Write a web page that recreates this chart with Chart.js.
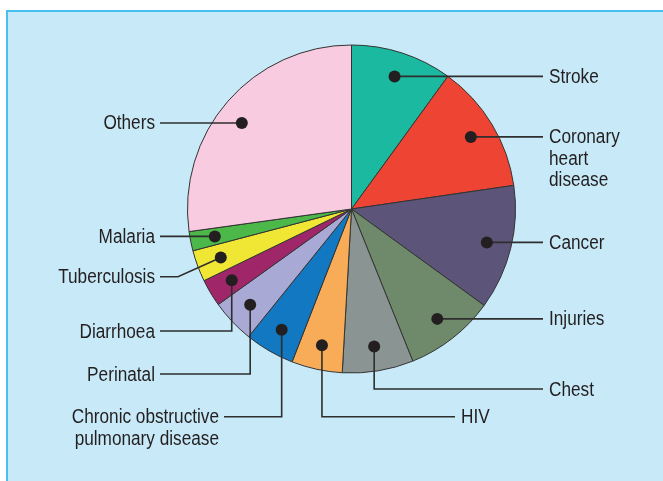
<!DOCTYPE html>
<html><head><meta charset="utf-8">
<script src="https://cdn.jsdelivr.net/npm/chart.js@4/dist/chart.umd.min.js"></script>
<style>
html,body{margin:0;padding:0;background:#fff;width:663px;height:481px;overflow:hidden;}
#panel{position:absolute;left:6px;top:10px;width:700px;height:520px;background:#c7e9f8;border-top:2px solid #48c0ef;border-left:2px solid #48c0ef;}
#wrap{position:absolute;left:0;top:0;width:663px;height:481px;}
</style></head><body>
<div id="panel"></div>
<div id="wrap"><canvas id="c" width="663" height="481"></canvas></div>
<script>
const categories = ['Stroke', 'Coronary heart disease', 'Cancer', 'Injuries', 'Chest', 'HIV',
  'Chronic obstructive pulmonary disease', 'Perinatal', 'Diarrhoea', 'Tuberculosis', 'Malaria', 'Others'];
const labelLines = [['Stroke'], ['Coronary', 'heart', 'disease'], ['Cancer'], ['Injuries'], ['Chest'], ['HIV'],
  ['Chronic obstructive', 'pulmonary disease'], ['Perinatal'], ['Diarrhoea'], ['Tuberculosis'], ['Malaria'], ['Others']];
const shares = [10.0, 12.7, 12.3, 8.9, 7.0, 5.0, 4.9, 4.3, 2.7, 3.1, 1.9, 27.2];
const sliceColors = ['#1bb9a0', '#ee4433', '#5d5479', '#6e8a6b', '#8a9593', '#f9ac57',
  '#1178c1', '#a8a9d4', '#a0266a', '#f0e734', '#4bb849', '#f8cbe0'];

// leader-line layout (annotation placement, in canvas px)
const leaders = [
  {side: 'right', type: 'h'},
  {side: 'right', type: 'h'},
  {side: 'right', type: 'h'},
  {side: 'right', type: 'h'},
  {side: 'right', type: 'down', y: 389},
  {side: 'right', type: 'down', y: 416.7, end: 455},
  {side: 'left', type: 'down', y: 416.7, end: 224},
  {side: 'left', type: 'down', y: 374},
  {side: 'left', type: 'down', y: 331},
  {side: 'left', type: 'diag', y: 276.7, elbow: 178},
  {side: 'left', type: 'h'},
  {side: 'left', type: 'h', at: 0.47}
];
const RIGHT_LINE_X = 543, RIGHT_TEXT_GAP = 6, LEFT_LINE_X = 160, LEFT_TEXT_GAP = 5;
const FONT = '20px "Liberation Sans", Arial, sans-serif';
const TEXT_SCALE_X = 0.86;
const LINE_H = 21.5;

const leaderPlugin = {
  id: 'leaders',
  afterDatasetsDraw(chart) {
    const ctx = chart.ctx;
    const arcs = chart.getDatasetMeta(0).data;
    ctx.save();
    arcs.forEach((arc, i) => {
      const p = arc.getProps(['x', 'y', 'startAngle', 'endAngle', 'outerRadius'], true);
      const L = leaders[i];
      const f = L.at !== undefined ? L.at : 0.5;
      const mid = p.startAngle + (p.endAngle - p.startAngle) * f;
      const r = p.outerRadius * 0.85;
      const dx = p.x + Math.cos(mid) * r;
      const dy = p.y + Math.sin(mid) * r;
      let endX, ly;
      ctx.strokeStyle = '#2e2e2e';
      ctx.lineWidth = 1.6;
      ctx.beginPath();
      ctx.moveTo(dx, dy);
      if (L.type === 'h') {
        ly = dy;
        endX = L.end || (L.side === 'right' ? RIGHT_LINE_X : LEFT_LINE_X);
        ctx.lineTo(endX, ly);
      } else if (L.type === 'down') {
        ly = L.y;
        endX = L.end || (L.side === 'right' ? RIGHT_LINE_X : LEFT_LINE_X);
        ctx.lineTo(dx, ly);
        ctx.lineTo(endX, ly);
      } else {
        ly = L.y;
        endX = L.end || LEFT_LINE_X;
        ctx.lineTo(L.elbow, ly);
        ctx.lineTo(endX, ly);
      }
      ctx.stroke();
      // dot
      ctx.fillStyle = '#231f20';
      ctx.beginPath();
      ctx.arc(dx, dy, 6, 0, Math.PI * 2);
      ctx.fill();
      // text (condensed by horizontal scaling)
      ctx.font = FONT;
      ctx.textBaseline = 'middle';
      ctx.fillStyle = '#231f20';
      labelLines[i].forEach((t, k) => {
        const y = ly + 1 + k * LINE_H;
        const x = L.side === 'right' ? endX + RIGHT_TEXT_GAP : endX - LEFT_TEXT_GAP;
        ctx.save();
        ctx.translate(x, y);
        ctx.scale(TEXT_SCALE_X, 1);
        ctx.textAlign = L.side === 'right' ? 'left' : 'right';
        ctx.fillText(t, 0, 0);
        ctx.restore();
      });
    });
    ctx.restore();
  }
};

new Chart(document.getElementById('c'), {
  type: 'pie',
  data: {
    labels: categories,
    datasets: [{
      data: shares,
      backgroundColor: sliceColors,
      borderColor: '#333333',
      borderWidth: 1
    }]
  },
  options: {
    responsive: false,
    animation: false,
    layout: {padding: {left: 187, right: 147, top: 44, bottom: 107}},
    plugins: {legend: {display: false}, tooltip: {enabled: false}}
  },
  plugins: [leaderPlugin]
});
</script>
</body></html>
